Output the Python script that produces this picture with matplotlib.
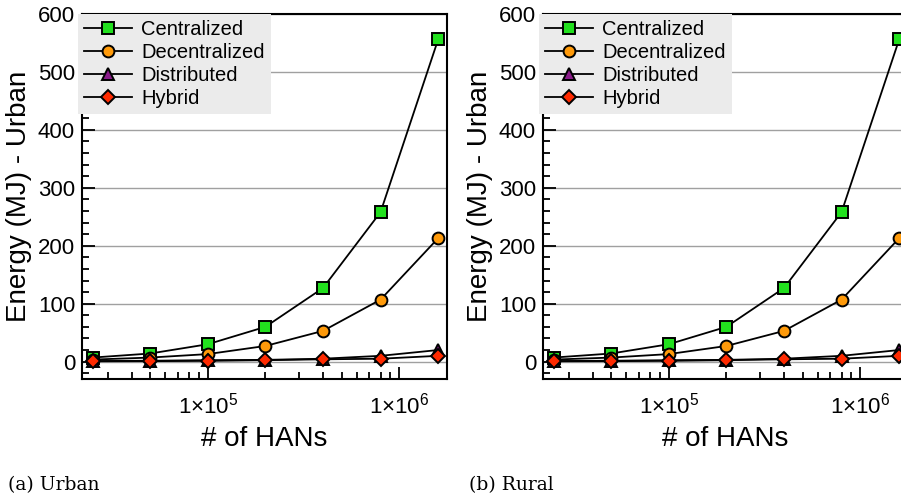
import matplotlib
matplotlib.use("Agg")
import matplotlib.pyplot as plt
from matplotlib.ticker import LogLocator, FixedLocator, MultipleLocator, NullFormatter

plt.rcParams['font.family'] = ['Liberation Sans', 'DejaVu Sans']
plt.rcParams['mathtext.fontset'] = 'custom'
plt.rcParams['mathtext.rm'] = 'Liberation Sans'
plt.rcParams['mathtext.it'] = 'Liberation Sans'

# data
hans = [25000, 50000, 100000, 200000, 400000, 800000, 1600000]
centralized = [7, 14, 30, 60, 127, 258, 556]
decentralized = [3.5, 7, 13, 27, 53, 107, 213]
distributed = [1, 1.5, 2.5, 3, 5, 10, 20]
hybrid = [0.5, 0.8, 1.3, 2.5, 4, 5, 10]

series = [
    ("Centralized", centralized, "s", "#22e01e"),
    ("Decentralized", decentralized, "o", "#ff9a0a"),
    ("Distributed", distributed, "^", "#8a1a8a"),
    ("Hybrid", hybrid, "D", "#ff2a00"),
]
panels = [("(a) Urban", "Energy (MJ) - Urban"), ("(b) Rural", "Energy (MJ) - Urban")]

fig = plt.figure(figsize=(9.01, 5.0), dpi=100)
lefts = [82 / 901, 543 / 901]
for (caption, ylabel), left in zip(panels, lefts):
    ax = fig.add_axes([left, 1 - 379 / 500, 365 / 901, 365 / 500])
    for name, vals, mk, col in series:
        ax.plot(hans, vals, color="black", lw=1.3, marker=mk, ms=8.5 if mk != "D" else 7.5,
                mfc=col, mec="black", mew=1.4, label=name, zorder=3)
    ax.set_xscale("log")
    ax.set_xlim(2.2e4, 1.78e6)
    ax.set_ylim(-30, 600)
    ax.xaxis.set_major_locator(FixedLocator([1e5, 1e6]))
    ax.set_xticklabels([r"$1{\times}10^{5}$", r"$1{\times}10^{6}$"])
    ax.xaxis.set_minor_locator(LogLocator(base=10, subs=range(2, 10)))
    ax.xaxis.set_minor_formatter(NullFormatter())
    ax.yaxis.set_major_locator(MultipleLocator(100))
    ax.yaxis.set_minor_locator(MultipleLocator(20))
    ax.tick_params(which="both", direction="in", top=False, right=False, labelsize=16, width=1.3)
    ax.tick_params(which="major", length=9)
    ax.tick_params(which="minor", length=5)
    ax.tick_params(axis="x", pad=10)
    ax.tick_params(axis="y", pad=5)
    ax.yaxis.grid(True, color="#a0a0a0", lw=1.0)
    ax.set_axisbelow(True)
    for sp in ax.spines.values():
        sp.set_linewidth(1.5)
    ax.set_xlabel("# of HANs", fontsize=20, labelpad=5)
    ax.set_ylabel(ylabel, fontsize=20, labelpad=4)
    leg = ax.legend(loc="upper left", bbox_to_anchor=(-0.012, 1.0), borderaxespad=0,
                    fontsize=14.5, frameon=True, fancybox=False, facecolor="#ebebeb",
                    edgecolor="none", framealpha=1, handlelength=2.4, handletextpad=0.45,
                    borderpad=0.3, labelspacing=0.2)
    fig.text(left - 74 / 901, 10 / 500, caption, family="DejaVu Serif", fontsize=13.5)

fig.savefig("out.png", dpi=100)
